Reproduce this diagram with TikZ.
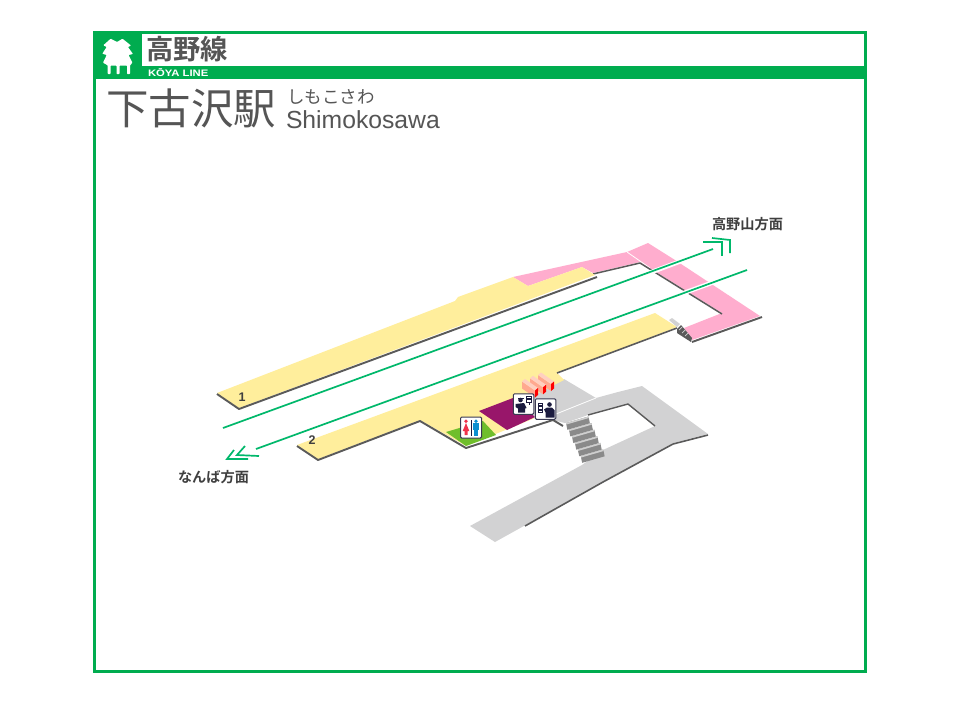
\documentclass[tikz,border=0pt]{standalone}
\usepackage{fontspec}
\setmainfont{Liberation Sans}
\newfontfamily\jpreg{Noto Sans CJK JP}
\newfontfamily\jpbold{Noto Sans CJK JP Bold}
\newfontfamily\koyafont[FakeStretch=1.2]{Liberation Sans Bold}
\definecolor{linegreen}{HTML}{00AC4F}
\definecolor{railgreen}{HTML}{00B86B}
\definecolor{platyellow}{HTML}{FFEE9C}
\definecolor{bridgepink}{HTML}{FFADCE}
\definecolor{floorgray}{HTML}{D2D2D3}
\definecolor{edgegray}{HTML}{5A5A5A}
\definecolor{inkgray}{HTML}{555555}
\definecolor{inkdark}{HTML}{3F3F3F}
\definecolor{wcgreen}{HTML}{6FBE2C}
\definecolor{gatepurple}{HTML}{98166A}
\definecolor{salmon}{HTML}{FFA98F}
\definecolor{salmontop}{HTML}{FFD0C0}
\definecolor{navy}{HTML}{1B1B3F}
\definecolor{stepgray}{HTML}{8A8A8A}
\definecolor{nosegray}{HTML}{CFCFCF}
\definecolor{wcred}{HTML}{F0324B}
\definecolor{wcblue}{HTML}{0B8FD0}
\tikzset{
  edgeline/.style={draw=edgegray,line width=1.9pt,line join=round},
  rail/.style={draw=railgreen,line width=1.7pt},
  railhalo/.style={draw=white,line width=4.5pt},
  chevron/.style={draw=railgreen,line width=1.7pt,line join=miter},
  iconbox/.style={draw=navy!70!gray,fill=white,line width=1pt,rounded corners=1.2pt},
  txt/.style={inner sep=0pt,outer sep=0pt}
}
\begin{document}
\begin{tikzpicture}[x=1pt,y=-1pt]
\useasboundingbox (0,0) rectangle (960,702);
\fill[white] (0,0) rectangle (960,702);
% frame and header
\draw[linegreen,line width=3pt] (94.5,32.5) rectangle (865.5,671.5);
\fill[linegreen] (94,32) rectangle (142,79);
\fill[linegreen] (94,66) rectangle (866,79);
% logo
\fill[white,rounded corners=0.6pt] (117,42) -- (122.5,38.7) -- (131,45.5) -- (128,47) -- (133,54) -- (128.5,55) -- (132.5,62.7) -- (130,65.3) -- (130,74) -- (127,74) -- (127,65.5) -- (119.5,65.5) -- (119.5,74) -- (116.5,74) -- (116.5,65.5) -- (110.5,65.5) -- (110.5,74) -- (107.7,74) -- (107.7,65.3) -- (103,62.7) -- (106.7,55) -- (102.3,53.7) -- (106.7,47) -- (103.3,45.3) -- (110.7,38.7) -- cycle;
\node[txt,anchor=west,text=inkgray] (linejp) at (146,49.5) {\jpbold\fontsize{27.3}{27.3}\selectfont 高野線};
\node[txt,anchor=west,text=white] (lineen) at (148,73) {\koyafont\fontsize{9.4}{9.4}\selectfont KŌYA LINE};
\node[txt,anchor=west,text=inkgray] (stnjp) at (106,108.5) {\jpreg\fontsize{42.5}{42.5}\selectfont 下古沢駅};
\node[txt,anchor=west,text=inkgray] (stnkana) at (287,96.5) {\jpreg\fontsize{17.5}{17.5}\selectfont しもこさわ};
\node[txt,anchor=west,text=inkgray] (stnen) at (286,119.5) {\fontsize{24.7}{24.7}\selectfont Shimokosawa};
% gray concourse
\fill[floorgray] (564,379) -- (596,398) -- (618,392) -- (642,386) -- (708,434) -- (673,443) -- (495,542) -- (470,526) -- (582,465) -- (603,450) -- (655,426) -- (628,404) -- (588,415) -- (565,423) -- (553,420) -- (535,418) -- (505,410) -- cycle;
\draw[white,line width=0.8pt] (556,414) -- (596,398);
\draw[edgegray,line width=1.4pt,line join=round] (588,415) -- (628,404) -- (655,426);
\draw[edgegray,line width=1.6pt,line join=round] (708,435) -- (673,444) -- (603,482) -- (525,526);
% pink bridge
\fill[bridgepink] (513,277) -- (627,252) -- (648,243) -- (675,260) -- (760,316) -- (692,340) -- (684,328) -- (722,313) -- (640,262) -- (593,273) -- (582,267) -- (528,286) -- cycle;
\draw[white,line width=0.8pt] (627,252) -- (650,268);
\draw[edgegray,line width=1.5pt,line join=round] (593,274) -- (640,263) -- (722,314);
\draw[edgeline] (692,342) -- (762,317);
% platform 1
\fill[platyellow] (217,393) -- (455,301) -- (458,297) -- (513,277) -- (528,286) -- (582,267) -- (595,275) -- (239,408) -- cycle;
\draw[edgeline] (217,394) -- (239,409) -- (597,277);
% platform 2
\fill[platyellow] (297,445) -- (655,313) -- (677,327) -- (557,373) -- (564,380) -- (505,410) -- (535,418) -- (466,446) -- (420,420) -- (318,459) -- cycle;
\draw[edgeline] (297,446) -- (318,460) -- (420,421) -- (466,448) -- (553,420) -- (563,426);
\draw[edgegray,line width=1.6pt] (557,373) -- (677,328);
% rooms
\fill[wcgreen] (446,432) -- (483,421) -- (496,435) -- (466,446) -- cycle;
\fill[gatepurple] (479,411) -- (513,398) -- (535,417) -- (507,430) -- cycle;
% tracks
\draw[railhalo] (560,306.5) -- (713,249);
\draw[railhalo] (560,338) -- (747,270);
\draw[rail] (223,428) -- (713,249);
\draw[rail] (256,449) -- (747,270);
\draw[chevron] (703,242) -- (722,242) -- (722,256);
\draw[chevron] (712,238) -- (730,240) -- (730,253);
\draw[chevron] (245,446) -- (237,455) -- (259,456);
\draw[chevron] (234,450) -- (227,459) -- (248,459);
% main stairs
\foreach \i in {0,...,5}{
  \pgfmathsetmacro{\lx}{566+\i*2.95}
  \pgfmathsetmacro{\ty}{423+\i*6.6}
  \pgfmathsetmacro{\rx}{\lx+22.5}
  \pgfmathsetmacro{\ry}{\ty-6.5}
  \fill[stepgray] (\lx,\ty) -- (\rx,\ry) -- (\rx+1.4,\ry+6.8) -- (\lx+1.4,\ty+6.8) -- cycle;
  \fill[nosegray] (\lx,\ty) -- (\rx,\ry) -- (\rx+0.4,\ry+1.5) -- (\lx+0.4,\ty+1.5) -- cycle;
}
% small stairs
\fill[floorgray] (669,320) -- (672,318) -- (680,324) -- (677,327) -- cycle;
\fill[edgegray] (677,329) -- (681,325) -- (692,338) -- (691,342) -- (677,333) -- cycle;
\foreach \i in {0,1,2}{
  \draw[floorgray,line width=0.7pt] (679+\i*3,330+\i*3) -- (682+\i*3,327+\i*3);
}
% fare gates
\foreach \dx/\dy in {16/-6.5,8/-3.2,0/0}{
  \begin{scope}[shift={(\dx,\dy)}]
    \fill[salmon] (522,381.5) -- (535,390.5) -- (535,397.5) -- (522,388.5) -- cycle;
    \fill[salmontop] (522,381.5) -- (525,379) -- (538,388) -- (535,390.5) -- cycle;
    \fill[red] (535,390.5) -- (538,388) -- (538,395) -- (535,397.5) -- cycle;
  \end{scope}
}
% WC icon
\node[iconbox,minimum width=21pt,minimum height=21pt,inner sep=0pt] (wc) at (471,427.5) {};
\fill[wcred] (466,421.2) circle (1.8);
\fill[wcred] (466,423) -- (469.3,431) -- (467.5,431) -- (467.5,435) -- (464.5,435) -- (464.5,431) -- (462.7,431) -- cycle;
\fill[navy] (470.6,419.5) rectangle (471.4,435.5);
\fill[wcblue] (476,421.2) circle (1.8);
\fill[wcblue] (472.7,423.2) rectangle (479.3,430);
\fill[wcblue] (474,429) rectangle (478,435.5);
% staff icon 1
\node[iconbox,minimum width=20.5pt,minimum height=20.5pt,inner sep=0pt] (staffa) at (523.5,404) {};
\fill[navy] (520.5,400) circle (2.3);
\fill[navy] (517.5,397.8) rectangle (523.5,398.8);
\fill[navy] (515.5,404) -- (524,403) -- (526.5,408) -- (525,408.5) -- (525,412.5) -- (518,412.5) -- (518,408.5) -- (515.5,407) -- cycle;
\draw[navy,line width=0.9pt,fill=white] (526.5,396.5) rectangle (531.5,402.5);
\fill[navy] (527.3,397.5) rectangle (530.7,399.7);
\draw[navy,line width=0.9pt] (529,402.5) -- (529,404.5);
% staff icon 2
\node[iconbox,minimum width=20.5pt,minimum height=20.5pt,inner sep=0pt] (staffb) at (545.5,409) {};
\fill[navy] (549.5,404.5) circle (2.3);
\fill[navy] (544,409.5) -- (547,407.5) -- (552,407.5) -- (554.5,410) -- (554.5,417.5) -- (545.5,417.5) -- (545.5,412.5) -- cycle;
\draw[navy,line width=0.9pt,fill=white] (538,403.5) rectangle (542.5,412);
\fill[navy] (539,405) rectangle (541.5,407);
\fill[navy] (539,408.5) rectangle (541.5,410.5);
% labels
\node[txt,text=inkdark] (num1) at (242,397) {\bfseries\fontsize{12.5}{12.5}\selectfont 1};
\node[txt,text=inkdark] (num2) at (312,440) {\bfseries\fontsize{12.5}{12.5}\selectfont 2};
\node[txt,anchor=west,text=inkdark] (destn) at (712,224) {\jpbold\fontsize{14.2}{14.2}\selectfont 高野山方面};
\node[txt,anchor=west,text=inkdark] (dests) at (178,477) {\jpbold\fontsize{14.2}{14.2}\selectfont なんば方面};
\end{tikzpicture}
\end{document}
